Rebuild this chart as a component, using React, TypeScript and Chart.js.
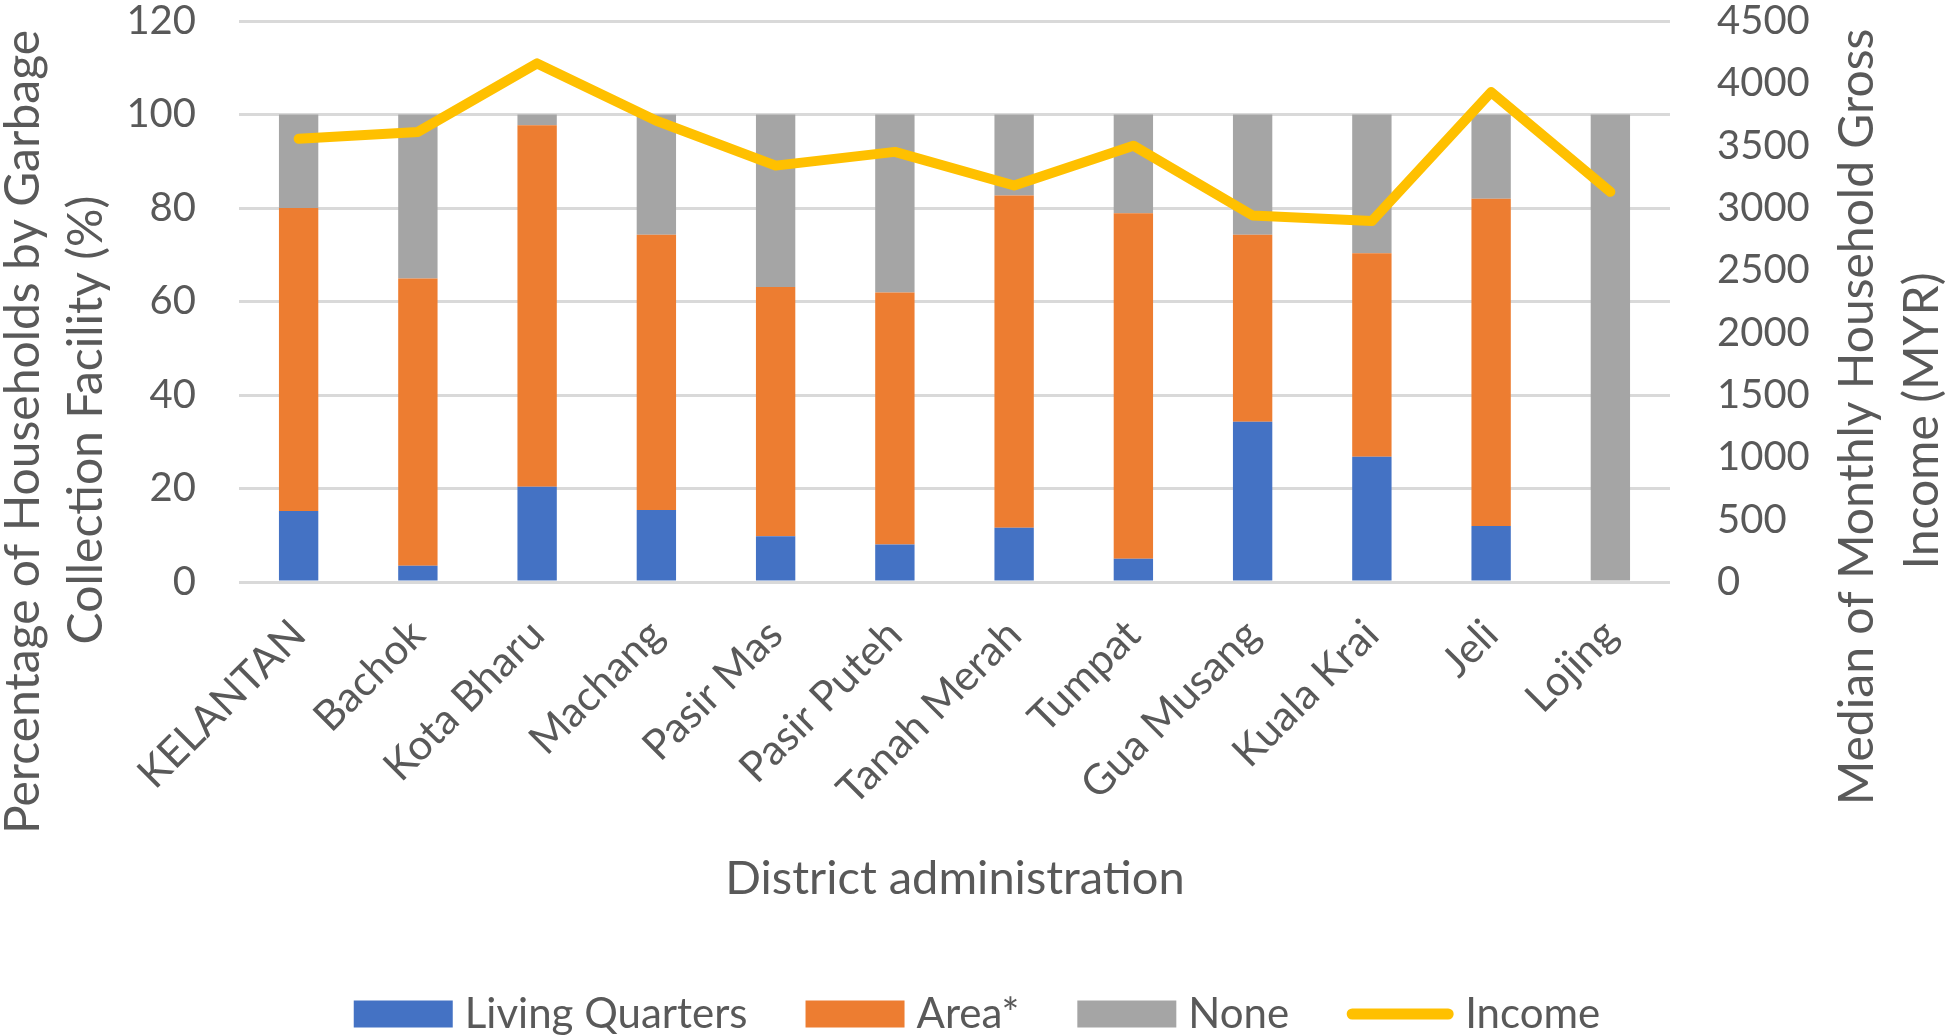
import React, { useEffect, useRef } from "react";
import { Chart, registerables } from "chart.js";

Chart.register(...registerables);

const categories = [
  "KELANTAN", "Bachok", "Kota Bharu", "Machang", "Pasir Mas", "Pasir Puteh",
  "Tanah Merah", "Tumpat", "Gua Musang", "Kuala Krai", "Jeli", "Lojing",
];
const livingQuarters = [15.2, 3.5, 20.4, 15.4, 9.8, 8.0, 11.6, 5.0, 34.3, 26.8, 12.0, 0];
const areaStar = [64.8, 61.4, 77.3, 58.9, 53.3, 53.9, 71.1, 73.9, 40.0, 43.5, 70.0, 0];
const noneFacility = [20.0, 35.1, 2.3, 25.7, 36.9, 38.1, 17.3, 21.1, 25.7, 29.7, 18.0, 100];
const income = [3555, 3610, 4160, 3700, 3340, 3450, 3180, 3500, 2940, 2895, 3930, 3130];

const leftTicks = [0, 20, 40, 60, 80, 100, 120];
const rightTicks = [0, 500, 1000, 1500, 2000, 2500, 3000, 3500, 4000, 4500];

const leftTitle = ["Percentage of Households by Garbage", "Collection Facility (%)"];
const rightTitle = ["Median of Monthly Household Gross", "Income (MYR)"];
const xTitle = "District administration";

const BLUE = "#4472C4";
const ORANGE = "#ED7D31";
const GRAY = "#A5A5A5";
const YELLOW = "#FFC000";
const TEXT = "#595959";
const FONT = "Lato";

const W = 1952;
const H = 1036;
const PLOT_LEFT = 239;
const PLOT_RIGHT = 1670;
const PLOT_TOP = 21;
const PLOT_BOTTOM = 582;

const decorPlugin = {
  id: "decor",
  afterDraw(chart: any) {
    const ctx = chart.ctx as CanvasRenderingContext2D;
    ctx.save();
    ctx.fillStyle = TEXT;
    ctx.font = `48px ${FONT}`;
    ctx.textAlign = "center";
    ctx.textBaseline = "middle";
    const vText = (t: string, x: number, y: number) => {
      ctx.save();
      ctx.translate(x, y);
      ctx.rotate(-Math.PI / 2);
      ctx.fillText(t, 0, 0);
      ctx.restore();
    };
    vText(leftTitle[0], 24, 432);
    vText(leftTitle[1], 87, 420);
    vText(rightTitle[0], 1858, 417);
    vText(rightTitle[1], 1923, 421);
    ctx.font = `47px ${FONT}`;
    ctx.fillText(xTitle, 955, 879);

    // legend
    const items = [
      { label: "Living Quarters", color: BLUE, type: "box" },
      { label: "Area*", color: ORANGE, type: "box" },
      { label: "None", color: GRAY, type: "box" },
      { label: "Income", color: YELLOW, type: "line" },
    ];
    ctx.font = `42px ${FONT}`;
    const boxW = 99;
    const boxH = 27;
    const lineW = 106;
    const gapIn = 12;
    const gapOut = 58;
    ctx.textAlign = "left";
    let total = 0;
    items.forEach((it, i) => {
      total += (it.type === "box" ? boxW : lineW) + gapIn + ctx.measureText(it.label).width;
      if (i < items.length - 1) total += gapOut;
    });
    let x = 977 - total / 2;
    const ly = 1014;
    items.forEach((it) => {
      if (it.type === "box") {
        ctx.fillStyle = it.color;
        ctx.fillRect(x, ly - boxH / 2, boxW, boxH);
        x += boxW + gapIn;
      } else {
        ctx.strokeStyle = it.color;
        ctx.lineWidth = 11;
        ctx.lineCap = "round";
        ctx.beginPath();
        ctx.moveTo(x + 5, ly);
        ctx.lineTo(x + lineW - 5, ly);
        ctx.stroke();
        x += lineW + gapIn;
      }
      ctx.fillStyle = TEXT;
      ctx.fillText(it.label, x, ly);
      x += ctx.measureText(it.label).width + gapOut;
    });
    ctx.restore();
  },
};

export default function App() {
  const ref = useRef<HTMLCanvasElement | null>(null);
  useEffect(() => {
    if (!ref.current) return;
    const chart = new Chart(ref.current, {
      type: "bar",
      data: {
        labels: categories,
        datasets: [
          {
            type: "line",
            label: "Income",
            data: income,
            yAxisID: "y1",
            borderColor: YELLOW,
            backgroundColor: YELLOW,
            borderWidth: 10,
            pointRadius: 0,
            borderCapStyle: "round",
            borderJoinStyle: "round",
            tension: 0,
            order: 0,
          } as any,
          {
            type: "bar",
            label: "Living Quarters",
            data: livingQuarters,
            backgroundColor: BLUE,
            yAxisID: "y",
            order: 1,
          },
          {
            type: "bar",
            label: "Area*",
            data: areaStar,
            backgroundColor: ORANGE,
            yAxisID: "y",
            order: 1,
          },
          {
            type: "bar",
            label: "None",
            data: noneFacility,
            backgroundColor: GRAY,
            yAxisID: "y",
            order: 1,
          },
        ],
      },
      options: {
        responsive: false,
        animation: false,
        devicePixelRatio: 1,
        layout: { padding: { top: PLOT_TOP, left: 0, right: 0, bottom: 0 } },
        datasets: {
          bar: { categoryPercentage: 1, barPercentage: 0.33 },
        } as any,
        plugins: {
          legend: { display: false },
          tooltip: { enabled: false },
        },
        scales: {
          x: {
            stacked: true,
            grid: { display: false },
            border: { display: false },
            ticks: {
              color: TEXT,
              font: { family: FONT, size: 42 },
              minRotation: 45,
              maxRotation: 45,
              autoSkip: false,
              padding: 20,
            },
            afterFit: (s: any) => {
              s.height = H - PLOT_BOTTOM;
              s.paddingLeft = 0;
              s.paddingRight = 0;
            },
          },
          y: {
            stacked: true,
            position: "left",
            min: 0,
            max: 120,
            afterBuildTicks: (s: any) => {
              s.ticks = leftTicks.map((v) => ({ value: v }));
            },
            grid: { color: "#D9D9D9", lineWidth: 3, drawTicks: false },
            border: { display: false },
            ticks: {
              color: TEXT,
              font: { family: FONT, size: 40 },
              padding: 43,
            },
            afterFit: (s: any) => {
              s.width = PLOT_LEFT;
              s.paddingTop = 0;
              s.paddingBottom = 0;
            },
          },
          y1: {
            position: "right",
            min: 0,
            max: 4500,
            afterBuildTicks: (s: any) => {
              s.ticks = rightTicks.map((v) => ({ value: v }));
            },
            grid: { drawOnChartArea: false, drawTicks: false },
            border: { display: false },
            ticks: {
              color: TEXT,
              font: { family: FONT, size: 40 },
              padding: 47,
              callback: (v: any) => String(v),
            },
            afterFit: (s: any) => {
              s.width = W - PLOT_RIGHT;
              s.paddingTop = 0;
              s.paddingBottom = 0;
            },
          },
        },
      },
      plugins: [decorPlugin],
    });
    return () => chart.destroy();
  }, []);
  return (
    <div style={{ position: "fixed", left: 0, top: 0, width: W, height: H, background: "#fff" }}>
      <canvas ref={ref} width={W} height={H} style={{ width: W, height: H, display: "block" }} />
    </div>
  );
}
